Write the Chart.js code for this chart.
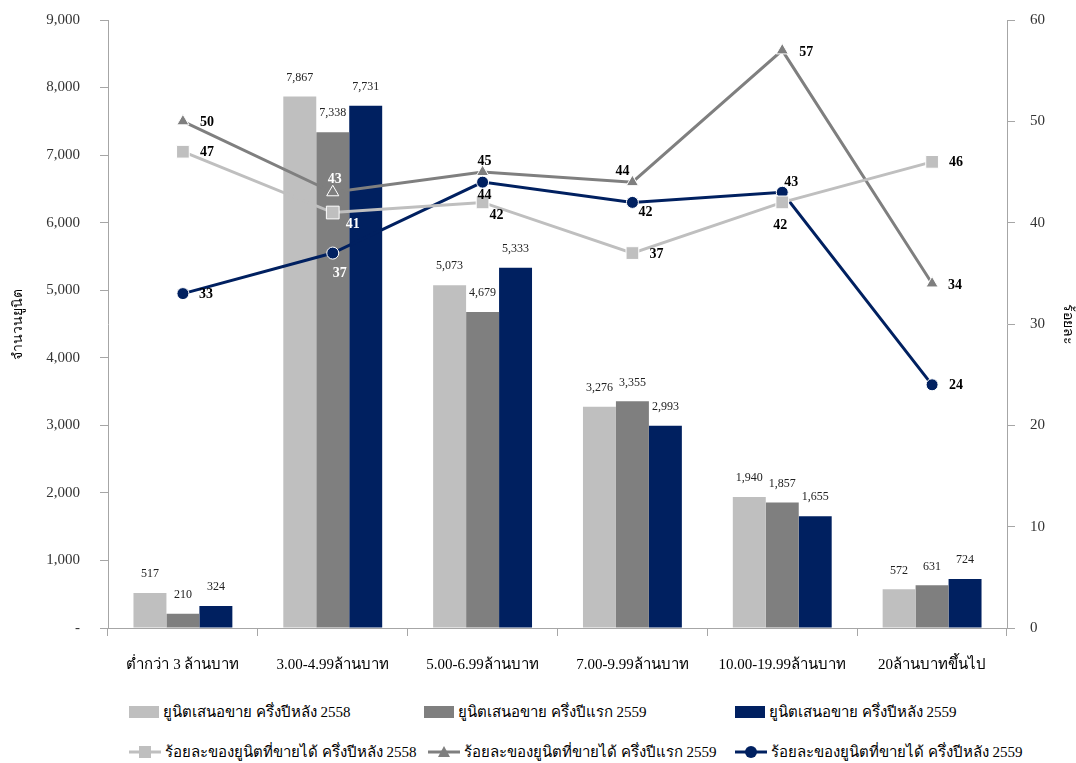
<!DOCTYPE html>
<html>
<head>
<meta charset="utf-8">
<script src="https://cdn.jsdelivr.net/npm/chart.js@4"></script>
<style>
  body { margin: 0; background: #fff; font-family: "Liberation Serif", "DejaVu Serif", serif; }
  #wrap { position: relative; width: 1076px; height: 763px; }
  #legend .item { position: absolute; display: flex; align-items: center; font-size: 15px; color: #000; white-space: nowrap; }
  #legend svg { margin-right: 4px; }
</style>
</head>
<body>
<div id="wrap">
  <canvas id="myChart" width="1076" height="690"></canvas>
  <div id="legend"></div>
</div>
<script>
// ข้อมูลของกราฟ
const categories = ['ต่ำกว่า 3 ล้านบาท', '3.00-4.99ล้านบาท', '5.00-6.99ล้านบาท', '7.00-9.99ล้านบาท', '10.00-19.99ล้านบาท', '20ล้านบาทขึ้นไป'];

const unitsH2_2558 = [517, 7867, 5073, 3276, 1940, 572];
const unitsH1_2559 = [210, 7338, 4679, 3355, 1857, 631];
const unitsH2_2559 = [324, 7731, 5333, 2993, 1655, 724];

const pctH2_2558 = [47, 41, 42, 37, 42, 46];
const pctH1_2559 = [50, 43, 45, 44, 57, 34];
const pctH2_2559 = [33, 37, 44, 42, 43, 24];

const barNames = ['ยูนิตเสนอขาย ครึ่งปีหลัง 2558', 'ยูนิตเสนอขาย ครึ่งปีแรก 2559', 'ยูนิตเสนอขาย ครึ่งปีหลัง 2559'];
const lineNames = ['ร้อยละของยูนิตที่ขายได้  ครึ่งปีหลัง 2558', 'ร้อยละของยูนิตที่ขายได้  ครึ่งปีแรก 2559', 'ร้อยละของยูนิตที่ขายได้ ครึ่งปีหลัง 2559'];

const leftTitle = 'จำนวนยูนิต';
const rightTitle = 'ร้อยละ';

const colLight = '#BFBFBF';
const colGray = '#7F7F7F';
const colNavy = '#002060';
const serif = '"Liberation Serif", "DejaVu Serif", serif';

// ตำแหน่งป้ายตัวเลขของเส้น (dx, dy, สี) — เป็นเรื่องของการจัดวางเท่านั้น
const lineLabelPos = [
  [[24, 1], [20, 12, '#fff'], [14, 13], [24, 1], [-2, 23], [24, 1]],
  [[24, 1], [2, -13, '#fff'], [2, -11], [-10, -11], [24, 2], [23, 2]],
  [[23, 1], [7, 20, '#fff'], [2, 13], [13, 10], [9, -10], [24, 1]]
];

const labelPlugin = {
  id: 'valueLabels',
  afterDatasetsDraw(chart) {
    const ctx = chart.ctx;
    ctx.save();
    ctx.textAlign = 'center';
    ctx.textBaseline = 'middle';
    chart.data.datasets.forEach((ds, di) => {
      const meta = chart.getDatasetMeta(di);
      meta.data.forEach((el, i) => {
        const v = ds.data[i];
        if (ds.type === 'bar') {
          ctx.font = '12px ' + serif;
          ctx.fillStyle = '#222';
          ctx.fillText(v.toLocaleString('en-US'), el.x, el.y - 19);
        } else {
          const p = lineLabelPos[di - 3][i];
          ctx.font = 'bold 14px ' + serif;
          ctx.fillStyle = p[2] || '#000';
          ctx.fillText(String(v), el.x + p[0], el.y + p[1]);
        }
      });
    });
    ctx.restore();
  }
};

function barSet(label, data, color) {
  return { type: 'bar', label, data, backgroundColor: color, yAxisID: 'y', order: 10,
           categoryPercentage: 0.66, barPercentage: 1.0 };
}
function lineSet(label, data, color, style, radius, bg) {
  return { type: 'line', label, data, borderColor: color, borderWidth: 3, yAxisID: 'y1', order: 1,
           pointStyle: style, pointRadius: radius, pointHoverRadius: radius,
           pointBackgroundColor: bg || color, pointBorderColor: '#fff', pointBorderWidth: 1,
           tension: 0, fill: false };
}

// ให้พื้นที่กราฟเริ่มที่ขอบบนตาม layout padding
function fixY(width) {
  return s => { s.width = width; s.paddingTop = 0; s.paddingBottom = 0; };
}

const ctx = document.getElementById('myChart').getContext('2d');
new Chart(ctx, {
  data: {
    labels: categories,
    datasets: [
      barSet(barNames[0], unitsH2_2558, colLight),
      barSet(barNames[1], unitsH1_2559, colGray),
      barSet(barNames[2], unitsH2_2559, colNavy),
      lineSet(lineNames[0], pctH2_2558, colLight, 'rect', 9),
      lineSet(lineNames[1], pctH1_2559, colGray, 'triangle', 7,
              pctH1_2559.map((v, i) => i === 1 ? 'rgba(0,0,0,0)' : colGray)),
      lineSet(lineNames[2], pctH2_2559, colNavy, 'circle', 6)
    ]
  },
  options: {
    responsive: false,
    animation: false,
    layout: { padding: { top: 20, left: 0, right: 0, bottom: 0 } },
    plugins: { legend: { display: false }, tooltip: { enabled: false } },
    scales: {
      x: {
        grid: { offset: true, drawOnChartArea: false, tickLength: 8, color: '#A6A6A6' },
        border: { color: '#A6A6A6' },
        ticks: { font: { family: serif, size: 15 }, color: '#000', padding: 20, maxRotation: 0 },
        afterFit(s) { s.height = 62; }
      },
      y: {
        position: 'left', min: 0, max: 9000,
        ticks: { stepSize: 1000, font: { family: serif, size: 15 }, color: '#333', padding: 20,
                 callback: v => v === 0 ? '-' : v.toLocaleString('en-US') },
        grid: { drawOnChartArea: false, tickLength: 8, color: '#A6A6A6' },
        border: { color: '#A6A6A6' },
        title: { display: true, text: leftTitle, font: { family: serif, size: 14 }, color: '#000', padding: { top: 10, bottom: 0 } },
        afterFit: fixY(108)
      },
      y1: {
        position: 'right', min: 0, max: 60,
        ticks: { stepSize: 10, font: { family: serif, size: 15 }, color: '#333', padding: 15 },
        grid: { drawOnChartArea: false, tickLength: 8, color: '#A6A6A6' },
        border: { color: '#A6A6A6' },
        title: { display: true, text: rightTitle, font: { family: serif, size: 14 }, color: '#000', padding: { top: 0, bottom: 2 } },
        afterFit: fixY(69)
      }
    }
  },
  plugins: [labelPlugin]
});

// คำอธิบายสัญลักษณ์ (legend) แบบ HTML
const legend = document.getElementById('legend');
const cols = [129, 424, 735];
function addItem(x, y, svg, text) {
  const d = document.createElement('div');
  d.className = 'item';
  d.style.left = x + 'px';
  d.style.top = (y - 12) + 'px';
  d.style.height = '24px';
  d.innerHTML = svg + '<span>' + text + '</span>';
  legend.appendChild(d);
}
const barColors = [colLight, colGray, colNavy];
barNames.forEach((n, i) => {
  addItem(cols[i], 712, `<svg width="30" height="14"><rect x="0" y="1" width="30" height="12" fill="${barColors[i]}"/></svg>`, n);
});
const markers = [
  c => `<rect x="10" y="3" width="12" height="12" fill="${c}"/>`,
  c => `<polygon points="16,3 22,14 10,14" fill="${c}"/>`,
  c => `<circle cx="16" cy="9" r="6" fill="${c}"/>`
];
lineNames.forEach((n, i) => {
  addItem(cols[i] + (i === 1 ? 4 : 0), 752, `<svg width="32" height="18"><line x1="0" y1="9" x2="32" y2="9" stroke="${barColors[i]}" stroke-width="3"/>${markers[i](barColors[i])}</svg>`, n);
});
</script>
</body>
</html>
